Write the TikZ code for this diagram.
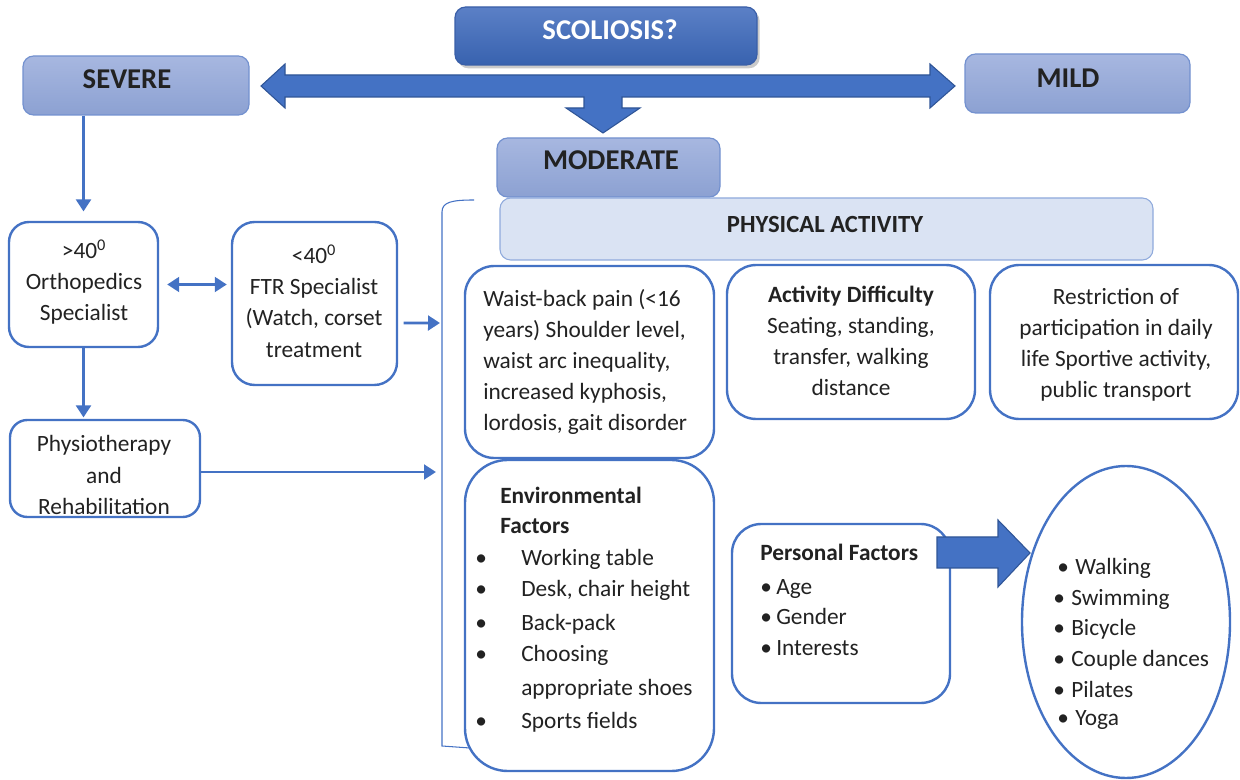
\documentclass[tikz,border=0pt]{standalone}
\usepackage{fontspec}
\setmainfont{Carlito}
\usetikzlibrary{arrows.meta,shapes.geometric,fit,shadows,calc}
\definecolor{ob}{HTML}{4472C4}
\definecolor{obd}{HTML}{2F5597}
\definecolor{lbd}{HTML}{7391CF}
\definecolor{ltop}{HTML}{A7B7E0}
\definecolor{lbot}{HTML}{8CA1D2}
\definecolor{sbd}{HTML}{3A5FA8}
\definecolor{stop}{HTML}{5B80C6}
\definecolor{sbot}{HTML}{3862AF}
\definecolor{pbd}{HTML}{8FAADC}
\definecolor{pfill}{HTML}{DAE3F3}
\definecolor{txt}{HTML}{222222}
\begin{document}
\begin{tikzpicture}[x=0.75pt,y=-0.75pt,
  lbox/.style={draw=lbd, line width=0.9pt, rounded corners=8pt, top color=ltop, bottom color=lbot, inner sep=0pt},
  sbox/.style={draw=sbd, line width=0.9pt, rounded corners=8pt, top color=stop, bottom color=sbot, inner sep=0pt,
     drop shadow={shadow xshift=2pt, shadow yshift=-2.5pt, opacity=0.35, fill=black!60}},
  pbox/.style={draw=pbd, line width=0.8pt, rounded corners=8pt, fill=pfill, inner sep=0pt},
  wbox/.style={draw=ob, line width=1.8pt, fill=white, inner sep=0pt},
  hd/.style={font=\fontsize{21.5}{26}\selectfont\bfseries, text=txt, inner sep=0pt, text height=13.8pt, text depth=0pt},
  bt/.style={font=\fontsize{17.5}{23.4}\selectfont, text=txt, inner sep=0pt},
  itm/.style={bt, text height=12pt, text depth=3.5pt, anchor=west, yshift=-2pt},
  bitm/.style={itm, font=\fontsize{17.5}{23.4}\selectfont\bfseries},
  conn/.style={draw=ob, line width=2.2pt, -{Triangle[length=9pt,width=11pt]}},
  big/.style={fill=ob, draw=obd, line width=0.8pt, line join=miter},
]
\useasboundingbox (0,0) rectangle (1240,780);

% top level boxes
\node[sbox, fit={(455,7) (757,65)}] (scol) {};
\node[hd, text=white] (scolT) at (610,30) {SCOLIOSIS?};
\node[lbox, fit={(23,56) (249,115)}] (severe) {};
\node[hd] (severeT) at (127,79) {SEVERE};
\node[lbox, fit={(965,54) (1190,113)}] (mild) {};
\node[hd] (mildT) at (1068,78) {MILD};
\node[lbox, fit={(497,138) (720,197)}] (moderate) {};
\node[hd] (modT) at (611,160) {MODERATE};

% big arrows
\path[big] (261,86) -- (285,64) -- (285,75) -- (930,75) -- (930,64) -- (955,86) -- (930,108) -- (930,97)
  -- (622,97) -- (622,108) -- (640,108) -- (603,133) -- (566,108) -- (584,108) -- (584,97)
  -- (285,97) -- (285,108) -- cycle;

\node[pbox, fit={(500,198) (1153,260)}] (pa) {};
\node[hd, font=\fontsize{18.5}{22}\selectfont\bfseries, text height=11.9pt] (paT) at (825,225) {PHYSICAL ACTIVITY};

% left column
\node[wbox, rounded corners=15pt, fit={(9,222) (158,347)}] (ortho) {};
\node[wbox, rounded corners=17pt, fit={(232,222) (397,385)}] (ftr) {};
\node[wbox, rounded corners=13pt, fit={(10,420) (200,517)}] (physio) {};
\node[bt, align=center] (orthoT) at (84,282) {>40\textsuperscript{0}\\Orthopedics\\Specialist};
\node[bt, align=center] (ftrT) at (314,301) {<40\textsuperscript{0}\\FTR Specialist\\(Watch, corset\\treatment};
\node[bt, align=center] (physioT) at (104,475) {Physiotherapy\\and\\Rehabilitation};

% bracket
\coordinate (brT) at (474,200);
\coordinate (brB) at (470,748);
\coordinate (brM) at (440,323);
\coordinate (brP) at (436,472);
\draw[ob, line width=0.8pt] (brT) .. controls (452,200) and (442,202) .. (442,212) -- (442,746) -- (brB);

% connectors
\draw[conn, shorten >=7pt] (severe.south -| ortho.north) -- (ortho.north);
\draw[conn, {Triangle[length=9pt,width=11pt]}-{Triangle[length=9pt,width=11pt]}, shorten <=6pt, shorten >=3pt]
  (ortho.east) -- (ortho.east -| ftr.west);
\draw[conn, shorten <=4pt] ([yshift=-14.6pt]ftr.east) -- (brM);
\draw[conn, shorten >=1pt] (ortho.south) -- (ortho.south |- physio.north);
\draw[conn] (physio.east |- brP) -- (brP);

% physical activity row
\node[wbox, rounded corners=22pt, fit={(465,266) (714,458)}] (pain) {};
\node[wbox, rounded corners=22pt, fit={(727,265) (975,419)}] (diff) {};
\node[wbox, rounded corners=22pt, fit={(990,265) (1238,419)}] (restr) {};
\node[bt, align=left, anchor=west] (painT) at (483,362) {Waist-back pain (<16\\years) Shoulder level,\\waist arc inequality,\\increased kyphosis,\\lordosis, gait disorder};
\node[bt, align=center] (diffT) at (851,341) {\textbf{Activity Difficulty}\\Seating, standing,\\transfer, walking\\distance};
\node[bt, align=center] (restrT) at (1116,345) {Restriction of\\participation in daily\\life Sportive activity,\\public transport};

% environmental
\node[wbox, rounded corners=32pt, fit={(465,460) (714,771)}] (env) {};
\node[bt, font=\fontsize{17.5}{22.5}\selectfont\bfseries, align=left, anchor=west] (envH) at (500,510) {Environmental\\Factors};
\foreach \y [count=\i] in {557,588,622,653,720}
  \node[itm] (envb\i) at (475,\y) {\textbullet};
\foreach \t/\y [count=\i] in {Working table/557, {Desk, chair height}/588, Back-pack/622, Choosing/653, appropriate shoes/687, Sports fields/720}
  \node[itm] (envt\i) at (521,\y) {\t};

% personal
\node[wbox, rounded corners=22pt, fit={(732,524) (950,703)}] (pers) {};
\node[bitm] (persH) at (760,552) {Personal Factors};
\foreach \t/\y [count=\i] in {Age/586, Gender/616, Interests/647}{
  \node[itm] (persb\i) at (760,\y) {\textbullet};
  \node[itm] (perst\i) at (776,\y) {\t};
}
\path[big] (937,537) -- (998,537) -- (998,520) -- (1030,553) -- (998,587) -- (998,568) -- (937,568) -- cycle;

% sports ellipse
\node[draw=ob, line width=1.8pt, ellipse, fill=white, minimum width=208*0.75pt, minimum height=312*0.75pt, inner sep=0pt] (sport) at (1126,622) {};
\foreach \t/\y/\bx [count=\i] in {Walking/566/1057, Swimming/597/1053, Bicycle/627/1053, Couple dances/658/1053, Pilates/689/1053, Yoga/717/1057}{
  \node[itm] (spb\i) at (\bx,\y) {\textbullet};
  \node[itm] (spt\i) at (\bx+18,\y) {\t};
}
\end{tikzpicture}
\end{document}
